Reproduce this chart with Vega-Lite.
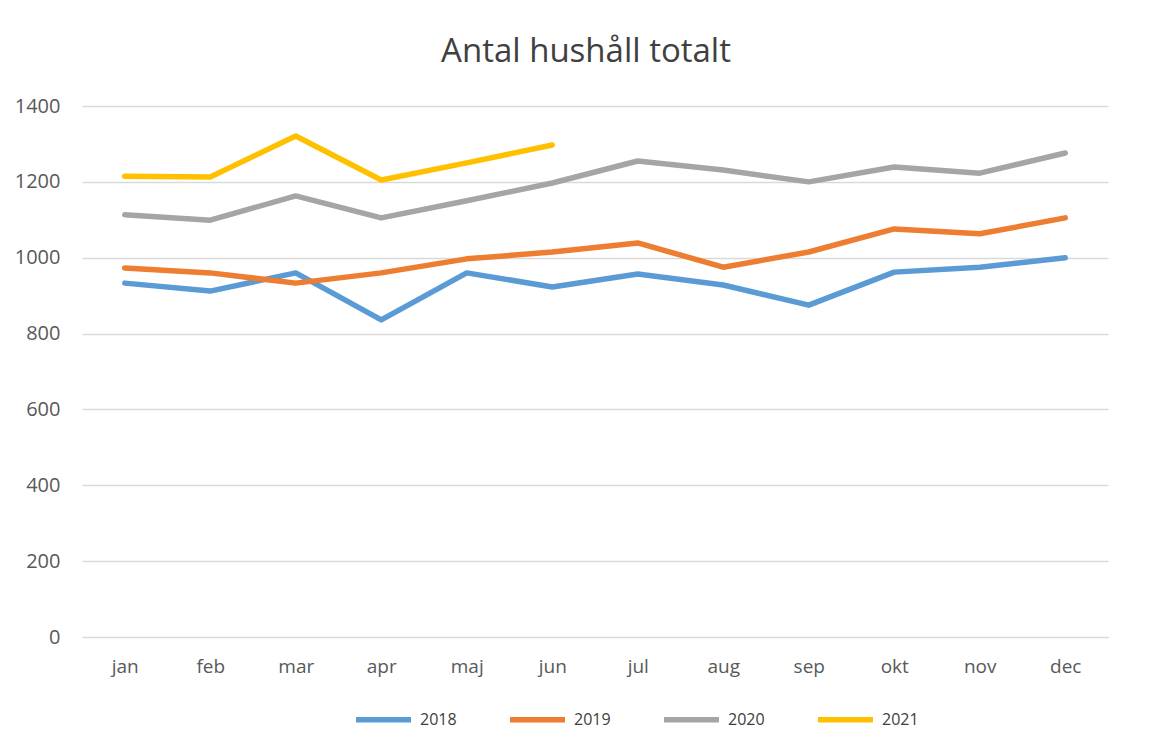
{
  "$schema": "https://vega.github.io/schema/vega-lite/v6.json",
  "autosize": {"type": "none"},
  "width": 1026,
  "height": 531,
  "padding": {"left": 82, "top": 106, "right": 52, "bottom": 119},
  "background": "white",
  "title": {"text": "Antal hushåll totalt", "font": "Open Sans", "fontSize": 33, "fontWeight": "normal", "color": "#404040", "anchor": "middle", "offset": 27, "dx": -9},
  "data": {"values": [
    {"month": "jan", "year": "2018", "value": 933},
    {"month": "feb", "year": "2018", "value": 912},
    {"month": "mar", "year": "2018", "value": 960},
    {"month": "apr", "year": "2018", "value": 836},
    {"month": "maj", "year": "2018", "value": 960},
    {"month": "jun", "year": "2018", "value": 923},
    {"month": "jul", "year": "2018", "value": 957},
    {"month": "aug", "year": "2018", "value": 928},
    {"month": "sep", "year": "2018", "value": 875},
    {"month": "okt", "year": "2018", "value": 962},
    {"month": "nov", "year": "2018", "value": 975},
    {"month": "dec", "year": "2018", "value": 1000},
    {"month": "jan", "year": "2019", "value": 973},
    {"month": "feb", "year": "2019", "value": 960},
    {"month": "mar", "year": "2019", "value": 933},
    {"month": "apr", "year": "2019", "value": 960},
    {"month": "maj", "year": "2019", "value": 997},
    {"month": "jun", "year": "2019", "value": 1015},
    {"month": "jul", "year": "2019", "value": 1039},
    {"month": "aug", "year": "2019", "value": 975},
    {"month": "sep", "year": "2019", "value": 1015},
    {"month": "okt", "year": "2019", "value": 1076},
    {"month": "nov", "year": "2019", "value": 1063},
    {"month": "dec", "year": "2019", "value": 1105},
    {"month": "jan", "year": "2020", "value": 1113},
    {"month": "feb", "year": "2020", "value": 1099},
    {"month": "mar", "year": "2020", "value": 1163},
    {"month": "apr", "year": "2020", "value": 1105},
    {"month": "maj", "year": "2020", "value": 1150},
    {"month": "jun", "year": "2020", "value": 1197},
    {"month": "jul", "year": "2020", "value": 1255},
    {"month": "aug", "year": "2020", "value": 1231},
    {"month": "sep", "year": "2020", "value": 1200},
    {"month": "okt", "year": "2020", "value": 1239},
    {"month": "nov", "year": "2020", "value": 1223},
    {"month": "dec", "year": "2020", "value": 1276},
    {"month": "jan", "year": "2021", "value": 1215},
    {"month": "feb", "year": "2021", "value": 1213},
    {"month": "mar", "year": "2021", "value": 1321},
    {"month": "apr", "year": "2021", "value": 1205},
    {"month": "maj", "year": "2021", "value": 1250},
    {"month": "jun", "year": "2021", "value": 1297}
  ]},
  "mark": {"type": "line", "strokeCap": "round", "strokeJoin": "round"},
  "encoding": {
    "x": {
      "field": "month", "type": "ordinal",
      "sort": ["jan","feb","mar","apr","maj","jun","jul","aug","sep","okt","nov","dec"],
      "scale": {"type": "point", "padding": 0.5},
      "axis": {"title": null, "labelAngle": 0, "ticks": false, "domain": true, "domainColor": "#d9d9d9", "labelPadding": 20, "labelFont": "Open Sans", "labelFontSize": 19, "labelColor": "#595959", "grid": false}
    },
    "y": {
      "field": "value", "type": "quantitative",
      "scale": {"domain": [0, 1400]},
      "axis": {"title": null, "values": [0,200,400,600,800,1000,1200,1400], "format": "d", "ticks": false, "domain": false, "labelPadding": 22, "labelFont": "Open Sans", "labelFontSize": 20, "labelColor": "#595959", "gridColor": "#d9d9d9", "gridWidth": 1.5}
    },
    "color": {
      "field": "year", "type": "nominal",
      "scale": {"domain": ["2018","2019","2020","2021"], "range": ["#5b9bd5","#ed7d31","#a5a5a5","#ffc000"]},
      "legend": {"title": null, "orient": "none", "direction": "horizontal", "legendX": 271, "legendY": 583, "symbolType": "stroke", "symbolSize": 3025, "symbolStrokeWidth": 5, "labelFont": "Open Sans", "labelFontSize": 16, "labelColor": "#404040", "columnPadding": 42, "labelOffset": 6}
    },
    "strokeWidth": {
      "field": "year", "type": "nominal",
      "scale": {"domain": ["2018","2019","2020","2021"], "range": [5.5,5.5,5.5,3.5]},
      "legend": null
    }
  },
  "config": {"view": {"stroke": null}}
}
